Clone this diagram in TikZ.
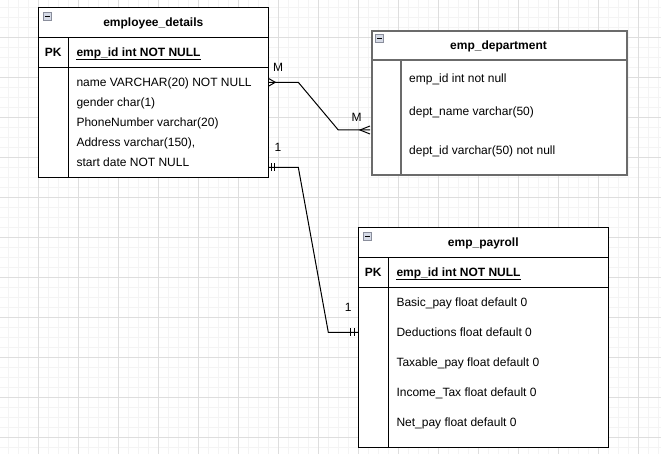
\documentclass[tikz,border=0pt]{standalone}
\usepackage{fontspec}
\setmainfont{Liberation Sans}
\definecolor{gridmajor}{HTML}{DEDEDE}
\definecolor{gridminor}{HTML}{F4F4F4}
\definecolor{deptedge}{HTML}{6B6B6B}
\definecolor{iconfill}{HTML}{D5DAE6}
\definecolor{iconedge}{HTML}{8A8E9C}
\tikzset{
  tablebox/.style={draw=black, fill=white, line width=1pt, inner sep=0pt, anchor=north west},
  deptbox/.style={draw=deptedge, fill=white, line width=2pt, inner sep=0pt, anchor=north west},
  iconbox/.style={draw=iconedge, fill=iconfill, line width=0.8pt, minimum size=8pt, inner sep=0pt},
  tabletitle/.style={anchor=base, inner sep=0pt, font=\fontsize{12}{14}\selectfont\bfseries},
  pkfield/.style={anchor=base west, inner sep=0pt, font=\fontsize{12}{14}\selectfont\bfseries},
  field/.style={anchor=base west, inner sep=0pt},
  cardlabel/.style={anchor=base, inner sep=0pt},
  link/.style={draw=black, line width=1pt}
}
\begin{document}
\begin{tikzpicture}[x=1pt, y=-1pt, font=\fontsize{12}{14}\selectfont]
  \useasboundingbox (0,0) rectangle (661,454);
  \fill[white] (0,0) rectangle (661,454);

  % background grid
  \foreach \i in {0,...,65}
  {
    \pgfmathsetmacro{\x}{8.3 + \i*10};
    \draw[gridminor, line width=0.8pt] (\x,0) -- (\x,454);
  }
  \foreach \i in {0,...,44}
  {
    \pgfmathsetmacro{\y}{7.3 + \i*10};
    \draw[gridminor, line width=0.8pt] (0,\y) -- (661,\y);
  }
  \foreach \i in {0,...,15}
  {
    \pgfmathsetmacro{\x}{38.3 + \i*40};
    \draw[gridmajor, line width=0.8pt] (\x,0) -- (\x,454);
  }
  \foreach \i in {0,...,10}
  {
    \pgfmathsetmacro{\y}{37.3 + \i*40};
    \draw[gridmajor, line width=0.8pt] (0,\y) -- (661,\y);
  }

  % employee_details
  \node[tablebox, minimum width=230pt, minimum height=170pt] (emp) at (38.3,7.3) {};
  \draw[line width=1pt] (emp.north west) ++(0,30) -- ++(230,0);
  \draw[line width=1pt] (emp.north west) ++(0,60) -- ++(230,0);
  \draw[line width=1pt] (emp.north west) ++(30,30) -- ++(0,140);
  \node[iconbox] (empicon) at (47.3,16.7) {};
  \draw[line width=1.2pt] (empicon.center) ++(-2.5,0) -- ++(5,0);
  \node[tabletitle] (emptitle) at (153.3,26.8) {employee\_details};
  \node[tabletitle] (emppk) at (53.3,56.8) {PK};
  \node[pkfield] (empkey) at (76.3,56.8) {emp\_id int NOT NULL};
  \draw[line width=1pt] (empkey.south west) -- (empkey.south east);
  \node[field] (empname) at (76.3,87) {name VARCHAR(20) NOT NULL};
  \node[field] (empgender) at (76.3,107) {gender char(1)};
  \node[field] (empphone) at (76.3,127) {PhoneNumber varchar(20)};
  \node[field] (empaddr) at (76.3,147) {Address varchar(150),};
  \node[field] (empstart) at (76.3,167) {start date NOT NULL};

  % emp_department
  \node[deptbox, minimum width=255pt, minimum height=144.3pt] (dept) at (371,30) {};
  \draw[deptedge, line width=2pt] (dept.north west) ++(0,30) -- ++(255,0);
  \draw[deptedge, line width=2pt] (dept.north west) ++(30.3,30) -- ++(0,114.3);
  \node[iconbox] (depticon) at (379.5,38.2) {};
  \draw[line width=1.2pt] (depticon.center) ++(-2.5,0) -- ++(5,0);
  \node[tabletitle] (depttitle) at (498.5,49.5) {emp\_department};
  \node[field] (deptemp) at (409,82.2) {emp\_id int not null};
  \node[field] (deptname) at (409,115.2) {dept\_name varchar(50)};
  \node[field] (deptid) at (409,154.5) {dept\_id varchar(50) not null};

  % emp_payroll
  \node[tablebox, minimum width=250pt, minimum height=220pt] (pay) at (358.3,227.3) {};
  \draw[line width=1pt] (pay.north west) ++(0,30) -- ++(250,0);
  \draw[line width=1pt] (pay.north west) ++(0,60) -- ++(250,0);
  \draw[line width=1pt] (pay.north west) ++(30,30) -- ++(0,190);
  \node[iconbox] (payicon) at (367.5,236.7) {};
  \draw[line width=1.2pt] (payicon.center) ++(-2.5,0) -- ++(5,0);
  \node[tabletitle] (paytitle) at (483.3,246.8) {emp\_payroll};
  \node[tabletitle] (paypk) at (373.3,276.8) {PK};
  \node[pkfield] (paykey) at (396.3,276.8) {emp\_id int NOT NULL};
  \draw[line width=1pt] (paykey.south west) -- (paykey.south east);
  \node[field] (paybasic) at (396.3,306.8) {Basic\_pay float default 0};
  \node[field] (payded) at (396.3,336.8) {Deductions float default 0};
  \node[field] (paytax) at (396.3,366.8) {Taxable\_pay float default 0};
  \node[field] (payincome) at (396.3,396.8) {Income\_Tax float default 0};
  \node[field] (paynet) at (396.3,426.8) {Net\_pay float default 0};

  % relations
  \coordinate (empM) at (268.3,82.3);
  \coordinate (bendA) at (298.3,82.3);
  \coordinate (bendB) at (338.3,130);
  \coordinate (deptM) at (370,130);
  \draw[link] (empM) -- (bendA) -- (bendB) -- (deptM);
  \draw[link] (empM) ++(0,-4) -- ++(7,4) -- ++(-7,4);
  \draw[link] (deptM) ++(0,-4) -- ++(-10,4) -- ++(10,4);
  \node[cardlabel] (empmany) at (278,71.2) {M};
  \node[cardlabel] (deptmany) at (356.7,121.2) {M};

  \coordinate (emp1) at (268.3,167.3);
  \coordinate (bendC) at (298.3,167.3);
  \coordinate (bendD) at (328.3,332.3);
  \coordinate (pay1) at (358.3,332.3);
  \draw[link] (emp1) -- (bendC) -- (bendD) -- (pay1);
  \draw[link] (emp1) ++(2.7,-4) -- ++(0,8);
  \draw[link] (emp1) ++(5.7,-4) -- ++(0,8);
  \draw[link] (pay1) ++(-7.6,-4) -- ++(0,8);
  \draw[link] (pay1) ++(-4,-4) -- ++(0,8);
  \node[cardlabel] (empone) at (278,151.2) {1};
  \node[cardlabel] (payone) at (348.3,311.2) {1};

\end{tikzpicture}
\end{document}
